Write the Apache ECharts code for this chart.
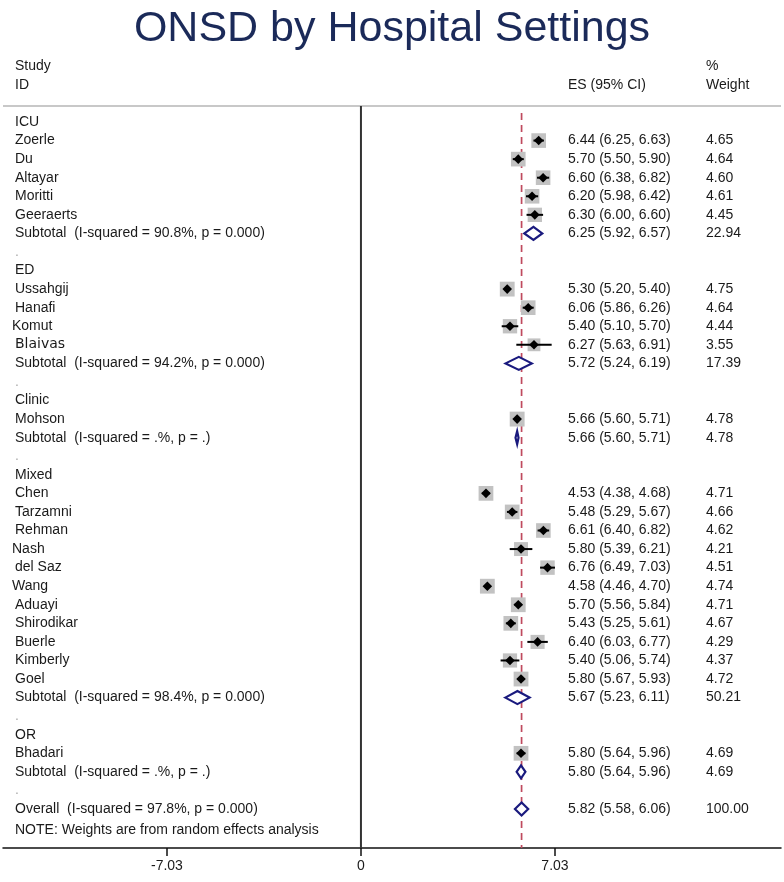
<!DOCTYPE html>
<html><head><meta charset="utf-8">
<script src="https://cdn.jsdelivr.net/npm/echarts@6/dist/echarts.min.js"></script>
<style>html,body{margin:0;padding:0;background:#fff}#c{width:784px;height:882px}</style>
</head><body><div id="c"></div>
<script>
// ---- data ----
const groups = ['ICU', 'ED', 'Clinic', 'Mixed', 'OR'];
const studyNames = ['Zoerle','Du','Altayar','Moritti','Geeraerts',
  'Ussahgij','Hanafi','Komut','Blaivas',
  'Mohson',
  'Chen','Tarzamni','Rehman','Nash','del Saz','Wang','Aduayi','Shirodikar','Buerle','Kimberly','Goel',
  'Bhadari'];
const studyGroup = [0,0,0,0,0, 1,1,1,1, 2, 3,3,3,3,3,3,3,3,3,3,3, 4];
const studyES = [6.44,5.70,6.60,6.20,6.30, 5.30,6.06,5.40,6.27, 5.66,
  4.53,5.48,6.61,5.80,6.76,4.58,5.70,5.43,6.40,5.40,5.80, 5.80];
const studyLo = [6.25,5.50,6.38,5.98,6.00, 5.20,5.86,5.10,5.63, 5.60,
  4.38,5.29,6.40,5.39,6.49,4.46,5.56,5.25,6.03,5.06,5.67, 5.64];
const studyHi = [6.63,5.90,6.82,6.42,6.60, 5.40,6.26,5.70,6.91, 5.71,
  4.68,5.67,6.82,6.21,7.03,4.70,5.84,5.61,6.77,5.74,5.93, 5.96];
const studyWeight = [4.65,4.64,4.60,4.61,4.45, 4.75,4.64,4.44,3.55, 4.78,
  4.71,4.66,4.62,4.21,4.51,4.74,4.71,4.67,4.29,4.37,4.72, 4.69];
const subES = [6.25, 5.72, 5.66, 5.67, 5.80];
const subLo = [5.92, 5.24, 5.60, 5.23, 5.64];
const subHi = [6.57, 6.19, 5.71, 6.11, 5.96];
const subWeight = [22.94, 17.39, 4.78, 50.21, 4.69];
const subI2 = ['90.8%', '94.2%', '.%', '98.4%', '.%'];
const subP = ['0.000', '0.000', '.', '0.000', '.'];
const overallES = 5.82, overallLo = 5.58, overallHi = 6.06, overallWeight = 100.00;
const overallI2 = '97.8%', overallP = '0.000';
const xTicks = [-7.03, 0, 7.03];
const noteText = 'NOTE: Weights are from random effects analysis';

// ---- build rows ----
const rows = [];
groups.forEach((g, gi) => {
  rows.push({type: 'group', label: g});
  studyNames.forEach((n, si) => {
    if (studyGroup[si] === gi) rows.push({type: 'study', label: n, es: studyES[si], lo: studyLo[si], hi: studyHi[si], w: studyWeight[si]});
  });
  rows.push({type: 'sub', label: 'Subtotal  (I-squared = ' + subI2[gi] + ', p = ' + subP[gi] + ')',
    es: subES[gi], lo: subLo[gi], hi: subHi[gi], w: subWeight[gi]});
  rows.push({type: 'blank', label: '.'});
});
rows.push({type: 'sub', label: 'Overall  (I-squared = ' + overallI2 + ', p = ' + overallP + ')',
  es: overallES, lo: overallLo, hi: overallHi, w: overallWeight});

const f2 = v => v.toFixed(2);
const studyData = [], subData = [], textData = [];
rows.forEach((r, i) => {
  if (r.type === 'study') studyData.push([r.es, i, r.lo, r.hi, r.w]);
  if (r.type === 'sub') subData.push([r.es, i, r.lo, r.hi, r.w]);
  textData.push([0, i]);
});

const TXT = '#1a1a1a';
const FONT = '"Liberation Sans", Arial, sans-serif';
const special = {Komut: {dx: -3}, Nash: {dx: -3}, Wang: {dx: -3}, Blaivas: {font: '"DejaVu Sans", sans-serif', size: 14, spacing: 1}};

const chart = echarts.init(document.getElementById('c'), null, {renderer: 'canvas'});
chart.setOption({
  animation: false,
  backgroundColor: '#fff',
  title: {text: 'ONSD by Hospital Settings', left: 'center', top: 3,
    textStyle: {fontFamily: FONT, fontSize: 43, fontWeight: 'normal', color: '#1b2a59'}},
  grid: {left: 3, right: 3, top: 106, bottom: 34},
  xAxis: {type: 'value', min: -12.97, max: 15.22,
    axisLine: {show: true, onZero: false, lineStyle: {color: '#111', width: 1.5}},
    axisTick: {show: true, customValues: xTicks, length: 8, lineStyle: {color: '#111', width: 1.5}},
    axisLabel: {show: true, customValues: xTicks, margin: 11, fontSize: 14, fontFamily: FONT, color: TXT,
      formatter: v => (v === 0 ? '0' : v.toFixed(2))},
    splitLine: {show: false}},
  yAxis: {type: 'value', inverse: true, min: -0.862, max: 39.1, show: false},
  graphic: [
    {type: 'line', shape: {x1: 3, y1: 106, x2: 781, y2: 106}, style: {stroke: '#c8c8c8', lineWidth: 2}, z: 1},
    {type: 'text', x: 15, y: 66, style: {text: 'Study', font: '14px ' + FONT, fill: TXT, verticalAlign: 'middle'}},
    {type: 'text', x: 15, y: 85, style: {text: 'ID', font: '14px ' + FONT, fill: TXT, verticalAlign: 'middle'}},
    {type: 'text', x: 568, y: 85, style: {text: 'ES (95% CI)', font: '14px ' + FONT, fill: TXT, verticalAlign: 'middle'}},
    {type: 'text', x: 706, y: 66, style: {text: '%', font: '14px ' + FONT, fill: TXT, verticalAlign: 'middle'}},
    {type: 'text', x: 706, y: 85, style: {text: 'Weight', font: '14px ' + FONT, fill: TXT, verticalAlign: 'middle'}}
  ],
  series: [
    { // reference lines
      type: 'custom', silent: true, z: 2,
      data: [[0]],
      renderItem: (params, api) => {
        const top0 = api.coord([0, -0.862]);
        const bot0 = api.coord([0, 39.1]);
        const topR = api.coord([overallES, -0.48]);
        const botR = api.coord([overallES, 39.1]);
        return {type: 'group', children: [
          {type: 'line', shape: {x1: top0[0], y1: top0[1], x2: bot0[0], y2: bot0[1]}, style: {stroke: '#333', lineWidth: 2}},
          {type: 'line', shape: {x1: topR[0], y1: topR[1], x2: botR[0], y2: botR[1]}, style: {stroke: '#bf4a5e', lineWidth: 1.7, lineDash: [7, 5]}}
        ]};
      }
    },
    { // study boxes, CIs and point markers
      type: 'custom', silent: true, z: 3,
      data: studyData,
      renderItem: (params, api) => {
        const c = api.coord([api.value(0), api.value(1)]);
        const l = api.coord([api.value(2), api.value(1)]);
        const h = api.coord([api.value(3), api.value(1)]);
        const s = 6.8 * Math.sqrt(api.value(4));
        const d = 4.8;
        return {type: 'group', children: [
          {type: 'rect', shape: {x: c[0] - s / 2, y: c[1] - s / 2, width: s, height: s}, style: {fill: '#c2c2c2'}},
          {type: 'line', shape: {x1: l[0], y1: c[1], x2: h[0], y2: c[1]}, style: {stroke: '#000', lineWidth: 2}},
          {type: 'polygon', shape: {points: [[c[0] - d, c[1]], [c[0], c[1] - d], [c[0] + d, c[1]], [c[0], c[1] + d]]}, style: {fill: '#000'}}
        ]};
      }
    },
    { // pooled diamonds
      type: 'custom', silent: true, z: 4,
      data: subData,
      renderItem: (params, api) => {
        const c = api.coord([api.value(0), api.value(1)]);
        const l = api.coord([api.value(2), api.value(1)]);
        const h = api.coord([api.value(3), api.value(1)]);
        const hh = 6.5;
        return {type: 'polygon', shape: {points: [[l[0], c[1]], [c[0], c[1] - hh], [h[0], c[1]], [c[0], c[1] + hh]]},
          style: {fill: '#fff', stroke: '#1a1a7e', lineWidth: 2.2}};
      }
    },
    { // row texts
      type: 'custom', silent: true, z: 5,
      data: textData,
      renderItem: (params, api) => {
        const i = params.dataIndex;
        const r = rows[i];
        const y = api.coord([0, api.value(1)])[1];
        const sp = special[r.label] || {};
        const ch = [];
        ch.push({type: 'text', x: 15 + (sp.dx || 0), y: y, style: {text: r.label,
          font: (sp.size || 14) + 'px ' + (sp.font || FONT), fill: r.type === 'blank' ? '#aaa' : TXT,
          verticalAlign: 'middle', textLetterSpacing: sp.spacing || 0}});
        if (r.type === 'study' || r.type === 'sub') {
          ch.push({type: 'text', x: 568, y: y, style: {text: f2(r.es) + ' (' + f2(r.lo) + ', ' + f2(r.hi) + ')', font: '14px ' + FONT, fill: TXT, verticalAlign: 'middle'}});
          ch.push({type: 'text', x: 706, y: y, style: {text: f2(r.w), font: '14px ' + FONT, fill: TXT, verticalAlign: 'middle'}});
        }
        return {type: 'group', children: ch};
      }
    },
    { // note
      type: 'custom', silent: true, z: 5,
      data: [[0, 38.12]],
      renderItem: (params, api) => {
        const y = api.coord([0, api.value(1)])[1];
        return {type: 'text', x: 15, y: y, style: {text: noteText, font: '14px ' + FONT, fill: TXT, verticalAlign: 'middle'}};
      }
    }
  ]
});
</script></body></html>
